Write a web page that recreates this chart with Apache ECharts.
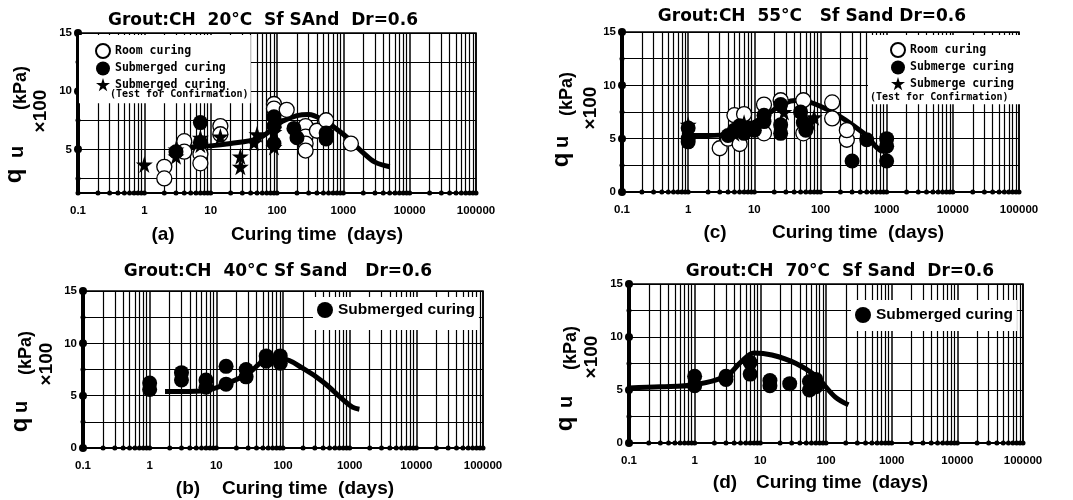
<!DOCTYPE html>
<html>
<head>
<meta charset="UTF-8">
<title>qu vs curing time</title>
<script src="https://cdn.jsdelivr.net/npm/echarts@6.0.0/dist/echarts.min.js"></script>
<style>
  html, body { margin: 0; padding: 0; background: #fff; }
  #main { width: 1073px; height: 500px; }
</style>
</head>
<body>
<div id="main"></div>
<script>
// axis values
var xTicks = [0.1, 1, 10, 100, 1000, 10000, 100000];
var xMultiples = [2, 3, 4, 5, 6, 7, 8, 9];
var yGrid = [0, 2.5, 5, 7.5, 10, 12.5, 15];
var yLabels = [0, 5, 10, 15];
var yGridA = [2.5, 5, 7.5, 10, 12.5, 15];
var yLabelsA = [5, 10, 15];

// (a) 20°C
var roomA = [[2, 3.5], [2, 2.5], [4, 5.7], [4, 4.8], [7, 4.6], [7, 3.8], [14, 7.0], [14, 6.3],
  [90, 8.9], [90, 8.5], [140, 8.4], [270, 7.0], [270, 6.1], [270, 5.5], [270, 4.9],
  [400, 6.6], [550, 7.5], [1300, 5.5]];
var subA = [[3, 4.8], [7, 7.3], [7, 5.6], [90, 7.8], [90, 7.0], [90, 5.5], [180, 6.8],
  [200, 6.0], [550, 6.4], [550, 5.9]];
var starA = [[1, 3.7], [3, 4.4], [3, 5.0], [7, 5.4], [7, 6.0], [14, 6.1], [28, 4.4], [28, 3.5],
  [45, 5.6], [50, 6.3], [90, 6.5], [90, 5.2], [100, 7.5]];
var curveA = [[4.5, 5.2], [10, 5.3], [20, 5.5], [50, 5.9], [80, 6.6], [120, 7.4], [200, 7.9],
  [300, 8.0], [500, 7.5], [1000, 6.3], [2000, 4.7], [3000, 3.9], [5000, 3.5]];

// (c) 55°C
var roomC = [[3, 4.1], [4, 5.0], [5, 7.2], [7, 7.3], [6, 4.5], [14, 8.2], [14, 5.5], [25, 8.6],
  [55, 8.6], [55, 5.5], [150, 8.4], [150, 6.9], [250, 4.9], [250, 5.8]];
var subC = [[1, 6.0], [1, 5.0], [1, 4.7], [4, 5.3], [5, 5.8], [6, 6.2], [7, 5.5], [8, 6.0],
  [10, 5.8], [14, 7.2], [14, 6.6], [25, 8.2], [25, 6.3], [25, 5.5], [50, 7.5], [55, 6.5],
  [60, 5.8], [300, 2.9], [500, 4.9], [1000, 5.0], [1000, 4.3], [1000, 2.9]];
var starC = [[1, 6.3], [5, 5.5], [7, 6.5], [28, 7.5], [70, 6.5], [80, 7.0]];
var curveC = [[1, 5.3], [2, 5.3], [4, 5.4], [8, 6.2], [15, 7.2], [28, 8.3], [45, 8.6],
  [140, 7.6], [450, 5.5], [800, 3.9], [1000, 3.8]];

// (b) 40°C
var subB = [[1, 6.2], [1, 5.6], [3, 7.2], [3, 6.5], [7, 6.5], [7, 5.8], [14, 7.8], [14, 6.1],
  [28, 7.5], [28, 6.8], [56, 8.8], [56, 8.3], [91, 8.8], [91, 8.1]];
var curveB = [[1.7, 5.4], [3, 5.4], [7, 5.5], [15, 6.2], [30, 7.1], [55, 8.4], [100, 8.5],
  [200, 7.6], [400, 6.3], [800, 4.6], [1100, 3.9], [1400, 3.7]];

// (d) 70°C
var subD = [[1, 6.3], [1, 5.4], [3, 6.3], [3, 6.0], [7, 7.6], [7, 6.5], [14, 5.9], [14, 5.4],
  [28, 5.6], [56, 5.8], [56, 5.0], [70, 6.0], [70, 5.3]];
var curveD = [[0.1, 5.2], [0.3, 5.3], [1, 5.5], [3, 6.3], [5, 7.6], [8, 8.5], [15, 8.3],
  [35, 7.5], [70, 6.3], [140, 4.3], [220, 3.6]];

// log grid positions inside each decade
var xMinor = [];
xTicks.slice(0, -1).forEach(function (d) {
  xMultiples.forEach(function (m) { xMinor.push(+(d * m).toPrecision(3)); });
});

var STAR = 'path://M50,0 L61,35 L98,35 L68,57 L79,91 L50,70 L21,91 L32,57 L2,35 L39,35 Z';
var FONT = 'Liberation Sans';
var panels = [
  { left: 78, top: 33, width: 398, height: 160, yMin: 1.25, grid: yGridA, labels: yLabelsA },
  { left: 622, top: 32, width: 397, height: 160, yMin: 0, grid: yGrid, labels: yLabels },
  { left: 83, top: 291, width: 400, height: 157, yMin: 0, grid: yGrid, labels: yLabels },
  { left: 629, top: 284, width: 394, height: 159, yMin: 0, grid: yGrid, labels: yLabels }
];

var grids = panels.map(function (p) {
  return { left: p.left, top: p.top, width: p.width, height: p.height,
    show: true, borderColor: '#000', borderWidth: 1.5, backgroundColor: 'transparent' };
});
var xAxes = panels.map(function (p, i) {
  return {
    type: 'log', logBase: 10, gridIndex: i, min: 0.1, max: 100000,
    axisLine: { lineStyle: { color: '#000', width: 2 } },
    axisTick: { show: false },
    axisLabel: { margin: 12, color: '#000', fontSize: 11.5, fontWeight: 'bold', fontFamily: FONT,
      formatter: function (v) { return String(+(+v).toPrecision(4)); } },
    splitLine: { show: true, lineStyle: { color: '#000', width: 1.5 } }
  };
});
var yAxes = panels.map(function (p, i) {
  return {
    type: 'value', gridIndex: i, min: p.yMin, max: 15,
    axisLine: { show: true, lineStyle: { color: '#000', width: 4 } },
    axisTick: { show: false, customValues: p.grid },
    axisLabel: { customValues: p.labels, margin: 6, color: '#000', fontSize: 11.5, fontWeight: 'bold',
      fontFamily: FONT },
    splitLine: { show: true, lineStyle: { color: '#000', width: 1.2 } }
  };
});

function curve(i, data) {
  return { type: 'line', xAxisIndex: i, yAxisIndex: i, data: data, smooth: 0.35, symbol: 'none',
    lineStyle: { color: '#000', width: 5 }, z: 3, silent: true };
}
function room(i, name, data) {
  return { type: 'scatter', name: name, xAxisIndex: i, yAxisIndex: i, data: data, symbol: 'circle',
    symbolSize: 15, itemStyle: { color: '#fff', borderColor: '#000', borderWidth: 1.3, opacity: 1 },
    z: 4, silent: true };
}
function sub(i, name, data) {
  return { type: 'scatter', name: name, xAxisIndex: i, yAxisIndex: i, data: data, symbol: 'circle',
    symbolSize: 15, itemStyle: { color: '#000', opacity: 1 }, z: 4, silent: true };
}
function star(i, name, data) {
  return { type: 'scatter', name: name, xAxisIndex: i, yAxisIndex: i, data: data, symbol: STAR,
    symbolSize: 17, itemStyle: { color: '#000', opacity: 1 }, z: 4, silent: true };
}
function deco(i, p) {
  return [
    { type: 'scatter', xAxisIndex: i, yAxisIndex: i, clip: false, silent: true, symbolSize: 5,
      itemStyle: { color: '#000', opacity: 1 },
      data: xMinor.concat(xTicks).map(function (x) { return [x, p.yMin]; }),
      markLine: { silent: true, z: 1, symbol: ['none', 'none'], label: { show: false },
        lineStyle: { color: '#000', width: 1.2, type: 'solid' },
        data: xMinor.map(function (x) { return { xAxis: x }; }) } },
    { type: 'scatter', xAxisIndex: i, yAxisIndex: i, clip: false, silent: true, symbolSize: 8,
      itemStyle: { color: '#000', opacity: 1 }, z: 5,
      data: p.labels.map(function (y) { return [0.1, y]; }) },
    { type: 'scatter', xAxisIndex: i, yAxisIndex: i, clip: false, silent: true, symbolSize: 5,
      itemStyle: { color: '#000', opacity: 1 }, z: 5,
      data: p.grid.map(function (y) { return [0.1, y]; }) }
  ];
}

var series = [].concat(
  deco(0, panels[0]), deco(1, panels[1]), deco(2, panels[2]), deco(3, panels[3]),
  [curve(0, curveA), room(0, 'Room curing', roomA), sub(0, 'Submerged curing', subA),
    star(0, 'Submerged curing (Test for Confirmation)', starA)],
  [curve(1, curveC), room(1, 'Room curing', roomC), sub(1, 'Submerge curing', subC),
    star(1, 'Submerge curing (Test for Confirmation)', starC)],
  [curve(2, curveB), sub(2, 'Submerged curing', subB)],
  [curve(3, curveD), sub(3, 'Submerged curing', subD)]
);

var monoLegend = { fontFamily: 'DejaVu Sans Mono', fontWeight: 'bold', fontSize: 11.5, color: '#000' };
var sansLegend = { fontFamily: FONT, fontWeight: 'bold', fontSize: 15.5, color: '#000' };
function shortName(n) { return n.replace(' (Test for Confirmation)', ''); }

var legends = [
  { left: 79, top: 35, orient: 'vertical', itemWidth: 14, itemHeight: 14, itemGap: 2.5, z: 6,
    padding: [8, 25, 12, 16], backgroundColor: '#fff', textStyle: monoLegend, formatter: shortName,
    selectedMode: false,
    data: ['Room curing', 'Submerged curing', 'Submerged curing (Test for Confirmation)'] },
  { left: 868, top: 35, orient: 'vertical', itemWidth: 14, itemHeight: 14, itemGap: 2.5, z: 6,
    padding: [7, 8, 14, 22], backgroundColor: '#fff', textStyle: monoLegend, formatter: shortName,
    selectedMode: false,
    data: ['Room curing', 'Submerge curing', 'Submerge curing (Test for Confirmation)'] },
  { left: 313, top: 297, itemWidth: 16, itemHeight: 16, padding: [5, 4, 12, 4], z: 6,
    backgroundColor: '#fff', textStyle: sansLegend, selectedMode: false, data: ['Submerged curing'] },
  { left: 851, top: 300, itemWidth: 16, itemHeight: 16, padding: [7, 4, 8, 4], z: 6,
    backgroundColor: '#fff', textStyle: sansLegend, selectedMode: false, data: ['Submerged curing'] }
];

var titles = [
  { text: 'Grout:CH  20°C  Sf SAnd  Dr=0.6', x: 263, y: 21 },
  { text: 'Grout:CH  55°C   Sf Sand Dr=0.6', x: 812, y: 17 },
  { text: 'Grout:CH  40°C Sf Sand   Dr=0.6', x: 278, y: 272 },
  { text: 'Grout:CH  70°C  Sf Sand  Dr=0.6', x: 840, y: 272 }
];
var xNames = [
  { tag: '(a)', tx: 163, text: 'Curing time  (days)', x: 317, y: 235 },
  { tag: '(c)', tx: 715, text: 'Curing time  (days)', x: 858, y: 233 },
  { tag: '(b)', tx: 188, text: 'Curing time  (days)', x: 308, y: 489 },
  { tag: '(d)', tx: 725, text: 'Curing time  (days)', x: 842, y: 483 }
];
// centres of q, u, (kPa) and ×100 for each panel
var yNames = [
  { q: [14, 176], u: [17, 152], k: [21, 88], h: [41, 111] },
  { q: [561, 160], u: [562, 142], k: [567, 94], h: [591, 108] },
  { q: [20, 425], u: [21, 407], k: [26, 353], h: [47, 364] },
  { q: [565, 424], u: [566, 402], k: [571, 348], h: [592, 357] }
];

var graphic = [];
function vtext(pos, text, size) {
  return { type: 'text', x: pos[0], y: pos[1], rotation: Math.PI / 2, z: 10, style: {
    text: text, align: 'center', verticalAlign: 'middle', fill: '#000',
    fontSize: size, fontWeight: 'bold', fontFamily: FONT } };
}
titles.forEach(function (t) {
  graphic.push({ type: 'text', x: t.x, y: t.y, z: 10, style: { text: t.text, align: 'center',
    verticalAlign: 'middle', fontSize: 17, fontWeight: 'bold', fontFamily: 'DejaVu Sans', fill: '#000' } });
});
xNames.forEach(function (t) {
  graphic.push({ type: 'text', x: t.tx, y: t.y, z: 10, style: { text: t.tag, align: 'center',
    verticalAlign: 'middle', fontSize: 19, fontWeight: 'bold', fontFamily: FONT, fill: '#000' } });
  graphic.push({ type: 'text', x: t.x, y: t.y, z: 10, style: { text: t.text, align: 'center',
    verticalAlign: 'middle', fontSize: 19, fontWeight: 'bold', fontFamily: FONT, fill: '#000' } });
});
yNames.forEach(function (t) {
  graphic.push(vtext(t.q, 'q', 24));
  graphic.push(vtext(t.u, 'u', 20));
  graphic.push(vtext(t.k, '(kPa)', 18));
  graphic.push(vtext(t.h, '×100', 19));
});
// second line of the star legend entries
graphic.push({ type: 'text', x: 110, y: 94, z: 20, style: { text: '(Test for Confirmation)',
  align: 'left', verticalAlign: 'middle', fontSize: 10, fontWeight: 'bold', fontFamily: 'DejaVu Sans Mono', fill: '#000' } });
graphic.push({ type: 'text', x: 870, y: 97, z: 20, style: { text: '(Test for Confirmation)',
  align: 'left', verticalAlign: 'middle', fontSize: 10, fontWeight: 'bold', fontFamily: 'DejaVu Sans Mono', fill: '#000' } });

var chart = echarts.init(document.getElementById('main'), null, { renderer: 'canvas' });
chart.setOption({
  backgroundColor: '#fff',
  animation: false,
  grid: grids,
  xAxis: xAxes,
  yAxis: yAxes,
  legend: legends,
  series: series,
  graphic: graphic
});
</script>
</body>
</html>
